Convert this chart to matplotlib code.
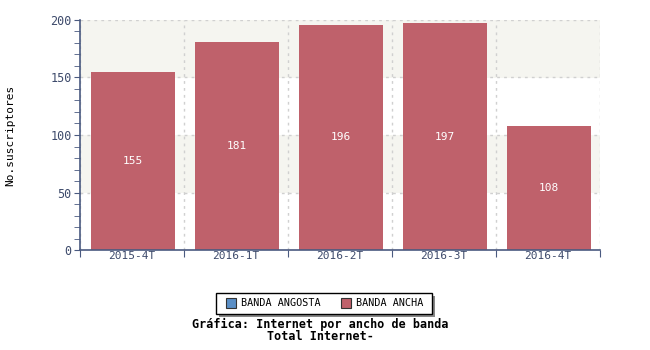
import matplotlib
matplotlib.use("Agg")
import matplotlib.pyplot as plt
from matplotlib.patches import Rectangle
import matplotlib.ticker as mticker

categories = ["2015-4T", "2016-1T", "2016-2T", "2016-3T", "2016-4T"]
banda_ancha = [155, 181, 196, 197, 108]
banda_angosta = [0, 0, 0, 0, 0]
series_names = ["BANDA ANGOSTA", "BANDA ANCHA"]
title_lines = ["Gráfica: Internet por ancho de banda", "Total Internet-"]
ylabel = "No.suscriptores"

c_ancha = "#bf616b"
c_angosta = "#5b8fc6"
axis_c = "#4a5a80"
text_c = "#3d4a6b"
font = "DejaVu Sans Mono"

fig = plt.figure(figsize=(6.5, 3.5), dpi=100)
ax = fig.add_axes([80/650, 1-250/350, 520/650, 230/350])
ax.set_xlim(-0.5, len(categories)-0.5)
ax.set_ylim(0, 200)

# alternating bands
for lo, hi in [(50, 100), (150, 200)]:
    ax.axhspan(lo, hi, color="#f5f5f0", zorder=0, lw=0)
for y in [50, 100, 150, 200]:
    ax.axhline(y, color="#d0d0d0", ls=(0, (2, 3)), lw=1, zorder=1)
for i in range(len(categories)+1):
    ax.axvline(i-0.5, color="#d0d0d0", ls=(0, (2, 3)), lw=1, zorder=1)

x = list(range(len(categories)))
bars = ax.bar([xi + 0.01 for xi in x], banda_ancha, width=0.81, color=c_ancha, zorder=2)
for xi, v in zip(x, banda_ancha):
    ax.text(xi + 0.01, v/2, str(v), ha="center", va="center", color="white",
            fontsize=8, family=font, zorder=3)

for s in ["top", "right"]:
    ax.spines[s].set_visible(False)
for s in ["left", "bottom"]:
    ax.spines[s].set_color(axis_c)
    ax.spines[s].set_linewidth(1.2)

ax.yaxis.set_major_locator(mticker.MultipleLocator(50))
ax.yaxis.set_minor_locator(mticker.MultipleLocator(10))
ax.tick_params(axis="y", which="both", direction="out", length=4, color=axis_c,
               labelcolor=text_c, labelsize=8.5, pad=2)
ax.set_xticks([i-0.5 for i in range(len(categories)+1)], minor=False)
ax.set_xticklabels([])
ax.set_xticks(x, minor=True)
ax.set_xticklabels(categories, minor=True)
ax.tick_params(axis="x", which="major", direction="out", length=5, color=axis_c)
ax.tick_params(axis="x", which="minor", length=0, labelcolor=text_c, labelsize=8, pad=1)
for lbl in ax.get_xticklabels(minor=True) + ax.get_yticklabels():
    lbl.set_family(font)

fig.text(10/650, 1-135/350, ylabel, rotation=90, ha="center", va="center",
         fontsize=8, family=font, color="black")

# legend box with shadow
lx0, ly0, lw_, lh = 216, 293, 216, 21
fig.patches.append(Rectangle(((lx0+3)/650, 1-(ly0+lh+3)/350), lw_/650, lh/350,
                             transform=fig.transFigure, facecolor="#888888",
                             edgecolor="none", zorder=1))
fig.patches.append(Rectangle((lx0/650, 1-(ly0+lh)/350), lw_/650, lh/350,
                             transform=fig.transFigure, facecolor="white",
                             edgecolor="black", lw=1, zorder=2))
for px, col, name in [(226, c_angosta, series_names[0]), (341, c_ancha, series_names[1])]:
    fig.patches.append(Rectangle((px/650, 1-(303+5)/350), 10/650, 10/350,
                                 transform=fig.transFigure, facecolor=col,
                                 edgecolor="#333333", lw=0.8, zorder=3))
    fig.text((px+15)/650, 1-303.5/350, name, ha="left", va="center",
             fontsize=7.3, family=font, zorder=4)

fig.text(320/650, 1-324/350, title_lines[0], ha="center", va="center",
         fontsize=8.5, family=font, weight="bold")
fig.text(320/650, 1-337/350, title_lines[1], ha="center", va="center",
         fontsize=8.5, family=font, weight="bold")

fig.savefig("out.png", dpi=100)
